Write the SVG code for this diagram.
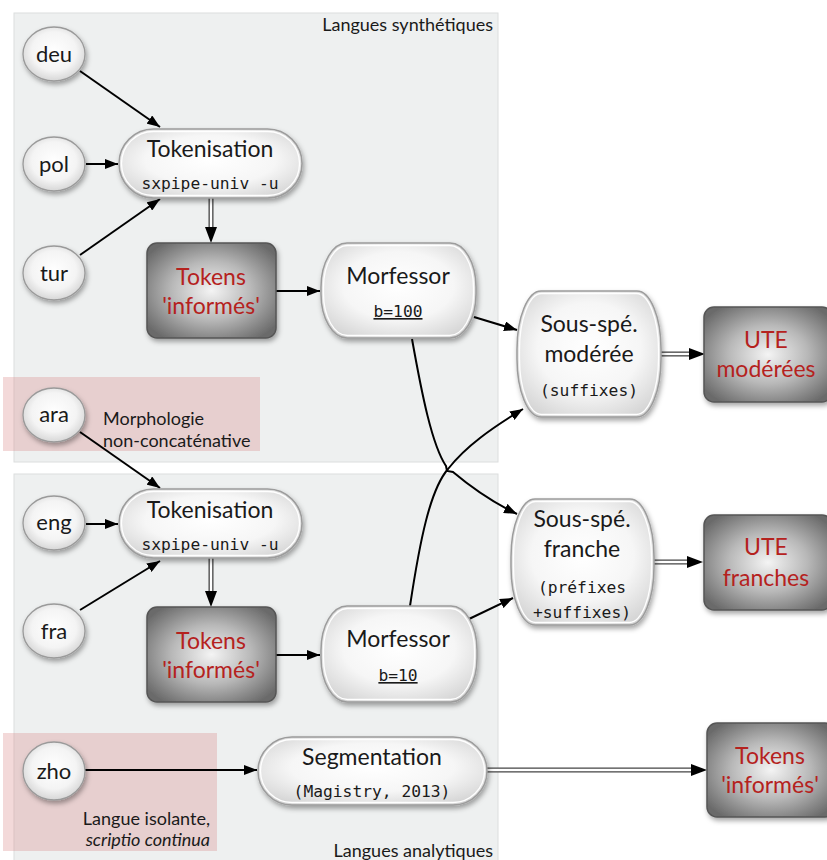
<svg xmlns="http://www.w3.org/2000/svg" width="827" height="860" viewBox="0 0 827 860">
<defs>
<style>
.lbl{font-family:Lato,"Open Sans","DejaVu Sans",sans-serif;fill:#1a1a1a;text-anchor:middle}
.big{font-size:23px}
.red{fill:#b5221e}
.mono{font-family:"DejaVu Sans Mono","Liberation Mono",monospace;font-size:16.3px;fill:#1a1a1a;text-anchor:middle}
.note{font-family:Lato,"Open Sans","DejaVu Sans",sans-serif;font-size:18px;fill:#1a1a1a}
.cl{fill:#eef0f0;stroke:#dcdede;stroke-width:1}
.pink{fill:#d98888;fill-opacity:0.32}
.light{fill:url(#gLight);stroke:#9c9c9c;stroke-width:1.5;filter:url(#sh)}
.inner{fill:none;stroke:#ffffff;stroke-width:1.3}
.dark{fill:url(#gDark);stroke:#555;stroke-width:1.5;filter:url(#sh)}
.circ{fill:url(#gCirc);stroke:#9a9a9a;stroke-width:1.3;filter:url(#sh)}
.edge{fill:none;stroke:#000;stroke-width:2;marker-end:url(#ah)}
.hout{fill:none;stroke:#444;stroke-width:5}
.hin{fill:none;stroke:#fff;stroke-width:2.4}
</style>
<radialGradient id="gLight" cx="50%" cy="45%" r="65%">
<stop offset="0" stop-color="#ffffff"/>
<stop offset="0.55" stop-color="#f6f6f6"/>
<stop offset="1" stop-color="#d2d2d2"/>
</radialGradient>
<radialGradient id="gCirc" cx="50%" cy="45%" r="60%">
<stop offset="0" stop-color="#ffffff"/>
<stop offset="0.6" stop-color="#f4f4f4"/>
<stop offset="1" stop-color="#cfcfcf"/>
</radialGradient>
<radialGradient id="gDark" cx="50%" cy="50%" r="62%">
<stop offset="0" stop-color="#f4f4f4"/>
<stop offset="0.5" stop-color="#b8b8b8"/>
<stop offset="1" stop-color="#6a6a6a"/>
</radialGradient>
<filter id="sh" x="-20%" y="-20%" width="140%" height="150%">
<feDropShadow dx="1.5" dy="3" stdDeviation="2.5" flood-color="#000" flood-opacity="0.35"/>
</filter>
<marker id="ah" markerWidth="13" markerHeight="10" refX="13" refY="5" orient="auto" markerUnits="userSpaceOnUse">
<path d="M0,0 L13,5 L0,10 z" fill="#000"/>
</marker>
</defs>

<g id="clusters">
<rect class="cl" x="14" y="13" width="484" height="449"/>
<rect class="cl" x="14" y="474" width="484" height="392"/>
<text class="note" x="493" y="31" text-anchor="end">Langues synthétiques</text>
<text class="note" x="493" y="857" text-anchor="end">Langues analytiques</text>
</g>

<g id="notes">
<rect class="pink" x="3" y="377" width="257" height="74"/>
<text class="note" x="103" y="425">Morphologie</text>
<text class="note" x="103" y="447">non-concaténative</text>
<rect class="pink" x="3" y="733" width="214" height="118"/>
<text class="note" x="210" y="825" text-anchor="end">Langue isolante,</text>
<text class="note" x="210" y="846" text-anchor="end" font-style="italic">scriptio continua</text>
</g>

<g id="connectors">
<path class="edge" d="M80,71 L160,127"/>
<path class="edge" d="M86,164 L118,164"/>
<path class="edge" d="M80,255 L160,199"/>
<path class="edge" d="M276,291 L320,291"/>
<path class="edge" d="M474,317 L517,330"/>
<path class="edge" d="M412,339 C422,395 432,445 446,466 L447,471 L453,472 C472,488 492,502 517,514"/>
<path class="edge" d="M410,606 C420,540 430,490 448,469 C466,446 492,428 523,409"/>
<path class="edge" d="M469,619 L513,598"/>
<path class="edge" d="M80,432 L160,488"/>
<path class="edge" d="M86,524 L118,524"/>
<path class="edge" d="M80,610 L160,561"/>
<path class="edge" d="M276,655 L320,655"/>
<path class="edge" d="M85,770 L257,770"/>
<g id="hollow">
<path class="hout" d="M211,197 V228"/><path class="hin" d="M211,197 V228"/>
<path d="M205,227 L217,227 L211,243 z" fill="#000"/>
<path class="hout" d="M211,558 V592"/><path class="hin" d="M211,558 V592"/>
<path d="M205,591 L217,591 L211,607 z" fill="#000"/>
<path class="hout" d="M661,354 H690"/><path class="hin" d="M661,354 H690"/>
<path d="M689,348 L705,354 L689,360 z" fill="#000"/>
<path class="hout" d="M654,562 H688"/><path class="hin" d="M654,562 H688"/>
<path d="M687,556 L703,562 L687,568 z" fill="#000"/>
<path class="hout" d="M486,770 H692"/><path class="hin" d="M486,770 H692"/>
<path d="M691,764 L707,770 L691,776 z" fill="#000"/>
</g>
</g>

<g id="deu"><ellipse class="circ" cx="54" cy="54" rx="31" ry="27"/><text class="lbl" x="54" y="62" font-size="22">deu</text></g>
<g id="pol"><ellipse class="circ" cx="54" cy="164" rx="31" ry="27"/><text class="lbl" x="54" y="172" font-size="22">pol</text></g>
<g id="tur"><ellipse class="circ" cx="54" cy="273" rx="31" ry="27"/><text class="lbl" x="54" y="281" font-size="22">tur</text></g>
<g id="ara"><ellipse class="circ" cx="54" cy="415" rx="31" ry="27"/><text class="lbl" x="54" y="422" font-size="22">ara</text></g>
<g id="eng"><ellipse class="circ" cx="54" cy="523" rx="31" ry="27"/><text class="lbl" x="54" y="530" font-size="22">eng</text></g>
<g id="fra"><ellipse class="circ" cx="54" cy="631" rx="31" ry="27"/><text class="lbl" x="54" y="639" font-size="22">fra</text></g>
<g id="zho"><ellipse class="circ" cx="54" cy="771" rx="31" ry="29"/><text class="lbl" x="54" y="779" font-size="22">zho</text></g>

<g id="tok1">
<rect class="light" x="119" y="129" width="183" height="69" rx="34.5" ry="34.5"/>
<rect class="inner" x="121.5" y="131.5" width="178" height="64" rx="32" ry="32"/>
<text class="lbl big" x="210" y="157">Tokenisation</text>
<text class="mono" x="210" y="189">sxpipe-univ -u</text>
</g>
<g id="tokens1">
<rect class="dark" x="147" y="243" width="129" height="95" rx="10" ry="10"/>
<text class="lbl big red" x="211" y="285">Tokens</text>
<text class="lbl big red" x="211" y="314">'informés'</text>
</g>
<g id="morf1">
<rect class="light" x="321" y="243" width="155" height="95" rx="26" ry="44"/>
<rect class="inner" x="323.5" y="245.5" width="150" height="90" rx="24" ry="42"/>
<text class="lbl big" x="398" y="284">Morfessor</text>
<text class="mono" x="398" y="317" text-decoration="underline">b=100</text>
</g>
<g id="tok2">
<rect class="light" x="119" y="489" width="183" height="69" rx="34.5" ry="34.5"/>
<rect class="inner" x="121.5" y="491.5" width="178" height="64" rx="32" ry="32"/>
<text class="lbl big" x="210" y="518">Tokenisation</text>
<text class="mono" x="210" y="550">sxpipe-univ -u</text>
</g>
<g id="tokens2">
<rect class="dark" x="147" y="607" width="129" height="95" rx="10" ry="10"/>
<text class="lbl big red" x="211" y="649">Tokens</text>
<text class="lbl big red" x="211" y="678">'informés'</text>
</g>
<g id="morf2">
<rect class="light" x="321" y="606" width="156" height="96" rx="26" ry="44"/>
<rect class="inner" x="323.5" y="608.5" width="151" height="91" rx="24" ry="42"/>
<text class="lbl big" x="398" y="647">Morfessor</text>
<text class="mono" x="398" y="681" text-decoration="underline">b=10</text>
</g>
<g id="seg">
<rect class="light" x="258" y="737" width="229" height="68" rx="34" ry="34"/>
<rect class="inner" x="260.5" y="739.5" width="224" height="63" rx="31.5" ry="31.5"/>
<text class="lbl big" x="372" y="765">Segmentation</text>
<text class="mono" x="372" y="797">(Magistry, 2013)</text>
</g>
<g id="ssmod">
<rect class="light" x="517" y="291" width="144" height="126" rx="24" ry="58"/>
<rect class="inner" x="519.5" y="293.5" width="139" height="121" rx="22" ry="56"/>
<text class="lbl big" x="589" y="332">Sous-spé.</text>
<text class="lbl big" x="589" y="362">modérée</text>
<text class="mono" x="589" y="396">(suffixes)</text>
</g>
<g id="ssfr">
<rect class="light" x="511" y="499" width="143" height="126" rx="24" ry="58"/>
<rect class="inner" x="513.5" y="501.5" width="138" height="121" rx="22" ry="56"/>
<text class="lbl big" x="582" y="527">Sous-spé.</text>
<text class="lbl big" x="582" y="557">franche</text>
<text class="mono" x="582" y="593">(préfixes</text>
<text class="mono" x="582" y="618">+suffixes)</text>
</g>
<g id="utemod">
<rect class="dark" x="704" y="307" width="128" height="95" rx="10" ry="10"/>
<text class="lbl big red" x="766" y="348">UTE</text>
<text class="lbl big red" x="766" y="377">modérées</text>
</g>
<g id="utefr">
<rect class="dark" x="704" y="515" width="128" height="95" rx="10" ry="10"/>
<text class="lbl big red" x="766" y="555">UTE</text>
<text class="lbl big red" x="766" y="586">franches</text>
</g>
<g id="tokens3">
<rect class="dark" x="707" y="723" width="128" height="94" rx="10" ry="10"/>
<text class="lbl big red" x="770" y="764">Tokens</text>
<text class="lbl big red" x="770" y="793">'informés'</text>
</g>
</svg>
